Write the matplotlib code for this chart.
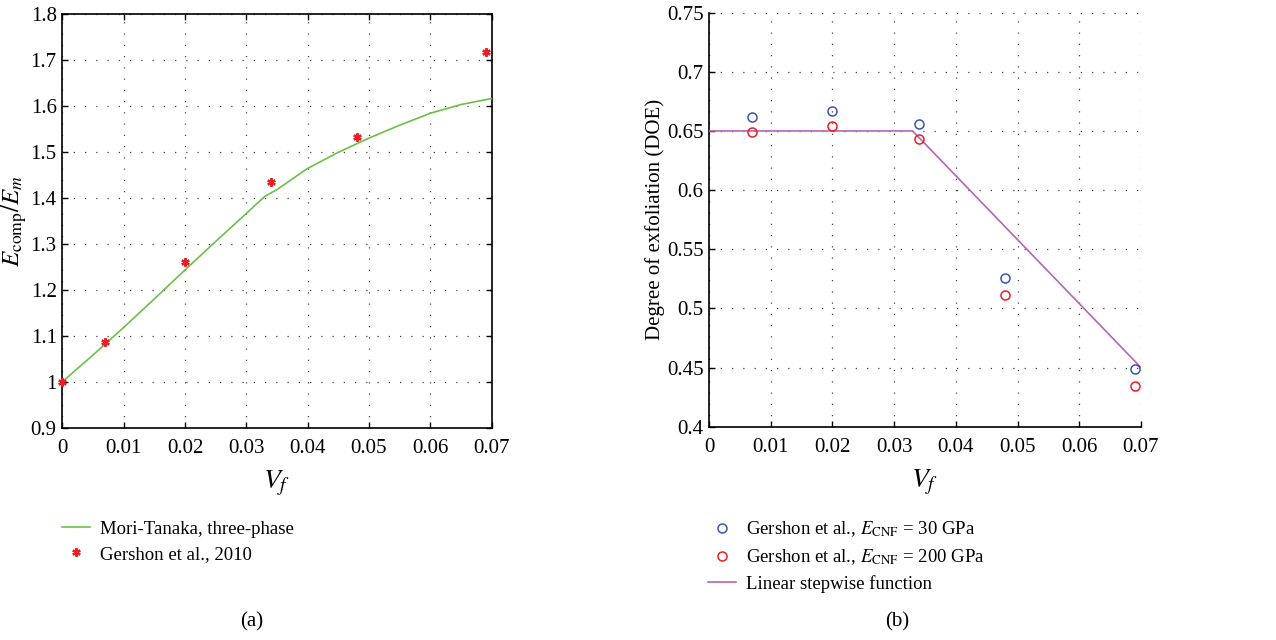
import matplotlib
matplotlib.use("Agg")
import matplotlib.pyplot as plt

plt.rcParams['font.family'] = ['Liberation Serif', 'DejaVu Serif']
plt.rcParams['mathtext.fontset'] = 'stix'
plt.rcParams['font.size'] = 15

# (a) modulus ratio vs volume fraction
vf_model = [0, 0.005, 0.01, 0.015, 0.02, 0.025, 0.03, 0.033, 0.035, 0.04,
            0.045, 0.05, 0.055, 0.06, 0.065, 0.07]
e_model = [1.0, 1.058, 1.118, 1.18, 1.243, 1.305, 1.366, 1.403, 1.418, 1.464,
           1.499, 1.530, 1.558, 1.584, 1.603, 1.616]
vf_exp = [0, 0.007, 0.02, 0.034, 0.048, 0.069]
e_exp = [1.0, 1.087, 1.26, 1.435, 1.533, 1.718]

# (b) degree of exfoliation
vf_doe = [0.007, 0.02, 0.034, 0.048, 0.069]
doe_30 = [0.662, 0.667, 0.656, 0.526, 0.4485]
doe_200 = [0.649, 0.654, 0.6435, 0.511, 0.434]
vf_step = [0, 0.033, 0.07]
doe_step = [0.65, 0.65, 0.45]

xticks = [0, 0.01, 0.02, 0.03, 0.04, 0.05, 0.06, 0.07]
xticklabels = ['0', '0.01', '0.02', '0.03', '0.04', '0.05', '0.06', '0.07']

green = '#6cc04a'
red = '#f01c24'
blue = '#3a55b0'
magenta = '#b964b4'
grid_style = dict(color='#444444', linestyle=(0, (1, 8)), linewidth=0.9)

fig = plt.figure(figsize=(12.76, 6.4), dpi=100)
ax1 = fig.add_axes([0.0488, 0.3317, 0.3365, 0.6465])
ax2 = fig.add_axes([0.5556, 0.3333, 0.3386, 0.6469])

# left panel
ax1.plot(vf_model, e_model, color=green, linewidth=1.2,
         label='Mori-Tanaka, three-phase', zorder=3)
ax1.plot(vf_exp, e_exp, linestyle='none', marker=(6, 2, 0), markersize=6,
         markeredgewidth=1.6, color=red, label='Gershon et al., 2010',
         zorder=4, clip_on=False)
ax1.set_xlim(0, 0.07)
ax1.set_ylim(0.9, 1.8)
ax1.set_xticks(xticks)
ax1.set_xticklabels(xticklabels)
ax1.set_yticks([0.9, 1.0, 1.1, 1.2, 1.3, 1.4, 1.5, 1.6, 1.7, 1.8])
ax1.set_yticklabels(['0.9', '1', '1.1', '1.2', '1.3', '1.4', '1.5', '1.6', '1.7', '1.8'])
ax1.grid(True, **grid_style)
ax1.tick_params(direction='in', top=True, right=True, length=4, width=1)
ax1.tick_params(axis='x', pad=8)
ax1.tick_params(axis='y', pad=4)
for sp in ax1.spines.values():
    sp.set_linewidth(1.2)
ax1.set_xlabel('$V_f$', fontsize=20, labelpad=8)
ax1.set_ylabel(r'$E_{\mathrm{comp}}/E_m$', fontsize=18, labelpad=1)

# right panel
ax2.plot(vf_doe, doe_30, linestyle='none', marker='o', markersize=6.5,
         markerfacecolor='none', markeredgecolor=blue, markeredgewidth=1.1,
         label=r'Gershon et al., $E_{\mathrm{CNF}}$ = 30 GPa', zorder=4)
ax2.plot(vf_doe, doe_200, linestyle='none', marker='o', markersize=6.5,
         markerfacecolor='none', markeredgecolor=red, markeredgewidth=1.1,
         label=r'Gershon et al., $E_{\mathrm{CNF}}$ = 200 GPa', zorder=4)
ax2.plot(vf_step, doe_step, color=magenta, linewidth=1.2,
         label='Linear stepwise function', zorder=3)
ax2.set_xlim(0, 0.07)
ax2.set_ylim(0.4, 0.75)
ax2.set_xticks(xticks)
ax2.set_xticklabels(xticklabels)
ax2.set_yticks([0.4, 0.45, 0.5, 0.55, 0.6, 0.65, 0.7, 0.75])
ax2.set_yticklabels(['0.4', '0.45', '0.5', '0.55', '0.6', '0.65', '0.7', '0.75'])
ax2.grid(True, **grid_style)
ax2.spines['top'].set_visible(False)
ax2.spines['right'].set_visible(False)
for sp in ax2.spines.values():
    sp.set_linewidth(1.2)
ax2.tick_params(direction='in', length=4, width=1)
ax2.tick_params(axis='x', pad=8)
ax2.tick_params(axis='y', pad=4)
ax2.set_xlabel('$V_f$', fontsize=20, labelpad=8)
ax2.set_ylabel('Degree of exfoliation (DOE)', fontsize=15, labelpad=1)

# legends below each panel
fig.legend(*ax1.get_legend_handles_labels(), loc='upper left',
           bbox_to_anchor=(0.043, 0.198), frameon=False, fontsize=13.5,
           handlelength=1.5, handletextpad=0.5, labelspacing=0.42,
           borderaxespad=0)
fig.legend(*ax2.get_legend_handles_labels(), loc='upper left',
           bbox_to_anchor=(0.549, 0.2), frameon=False, fontsize=13.5,
           handlelength=1.5, handletextpad=0.5, labelspacing=0.42,
           borderaxespad=0)

fig.text(0.1975, 0.028, '(a)', ha='center', va='center', fontsize=15)
fig.text(0.7028, 0.028, '(b)', ha='center', va='center', fontsize=15)

fig.savefig('out.png', dpi=100)
